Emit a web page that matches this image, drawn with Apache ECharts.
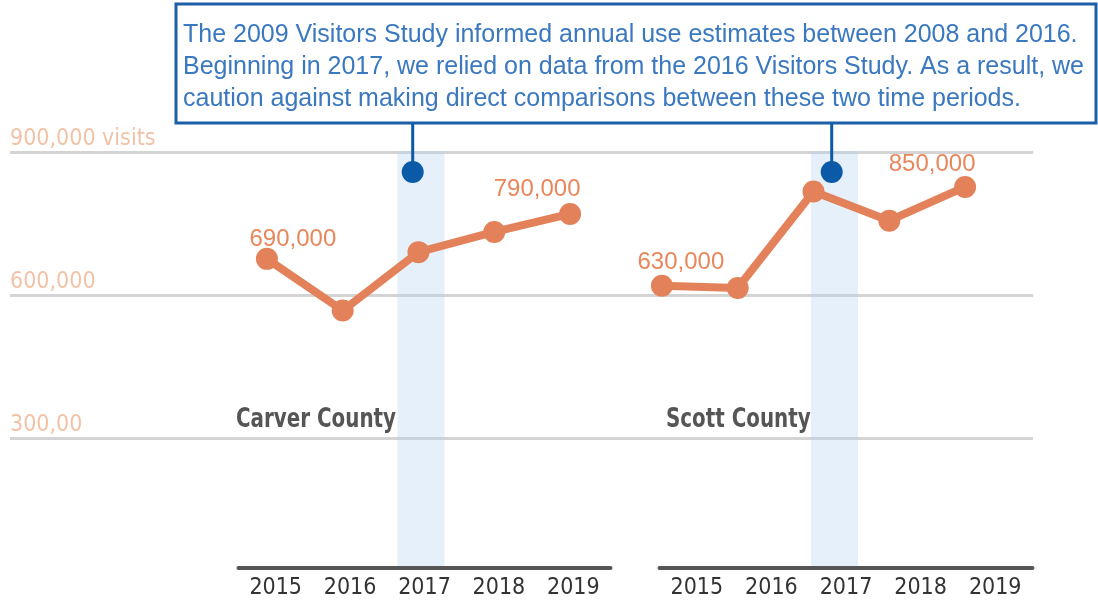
<!DOCTYPE html>
<html>
<head>
<meta charset="utf-8">
<title>Annual visits – Carver and Scott County</title>
<script src="https://cdn.jsdelivr.net/npm/echarts@6.0.0/dist/echarts.min.js"></script>
<style>
  html, body { margin: 0; padding: 0; background: #fff; }
  #chart { width: 1098px; height: 603px; }
</style>
</head>
<body>
<div id="chart"></div>
<script>
// data
const years = ['2015', '2016', '2017', '2018', '2019'];
const carverVisits = [690000, 575000, 705000, 750000, 790000];
const scottVisits = [630000, 625000, 840000, 775000, 850000];
const highlightYear = '2017';
const yTicks = [300000, 600000, 900000];
const yTickLabels = ['300,00', '600,000', '900,000 visits'];
const panelNames = ['Carver County', 'Scott County'];
const noteLines = [
  'The 2009 Visitors Study informed annual use estimates between 2008 and 2016.',
  'Beginning in 2017, we relied on data from the 2016 Visitors Study. As a result, we',
  'caution against making direct comparisons between these two time periods.'
];

const ORANGE = '#e3825a';
const NARROW = "'DejaVu Sans Condensed', 'Liberation Sans Narrow', sans-serif";
const PLAIN = "'Liberation Sans', Arial, sans-serif";
const yMax = 930000;

const chart = echarts.init(document.getElementById('chart'));

// which points get a value label, and where it sits
const labelOffsets = [
  { 0: [26, -19], 4: [-33, -25] },
  { 0: [19, -23], 4: [-33, -23] }
];

function lineData(values, offsets) {
  return values.map((v, i) => {
    if (!offsets[i]) return v;
    return {
      value: v,
      label: {
        show: true,
        position: 'inside',
        offset: offsets[i],
        formatter: p => p.value.toLocaleString('en-US'),
        color: '#e8875c',
        fontFamily: PLAIN,
        fontSize: 24,
        textBorderWidth: 0
      }
    };
  });
}

const hiddenY = (idx) => ({
  type: 'value', gridIndex: idx, min: 0, max: yMax, show: false
});
const hiddenX = (idx) => ({
  type: 'category', gridIndex: idx, data: years, show: false
});
const yearAxis = (idx) => ({
  type: 'category',
  gridIndex: idx,
  data: years,
  z: 10,
  axisLine: { lineStyle: { color: '#555', width: 4 } },
  axisTick: { show: false },
  axisLabel: { interval: 0, color: '#333', fontFamily: NARROW, fontSize: 23, margin: 9 }
});

const option = {
  animation: false,
  backgroundColor: '#fff',
  grid: [
    { left: 10, right: 65, top: 152, bottom: 22 },        // background lines
    { left: 229, right: 490, top: 151, bottom: 34 },      // Carver points
    { left: 624, right: 95, top: 151, bottom: 34 },       // Scott points
    { left: 238.5, right: 487.5, top: 151, bottom: 35 },  // Carver axis
    { left: 659.5, right: 65.5, top: 151, bottom: 35 },   // Scott axis
    { left: 233.5, width: 375, top: 151, bottom: 35 },    // Carver band
    { left: 647, width: 375, top: 151, bottom: 35 }       // Scott band
  ],
  xAxis: [
    { type: 'value', gridIndex: 0, show: false },
    hiddenX(1), hiddenX(2), yearAxis(3), yearAxis(4), hiddenX(5), hiddenX(6)
  ],
  yAxis: [
    {
      type: 'value',
      gridIndex: 0,
      min: 0,
      max: 900000,
      interval: 300000,
      axisLine: { show: false },
      axisTick: { show: false },
      splitLine: { showMinLine: false, lineStyle: { color: '#d4d4d4', width: 3 } },
      axisLabel: {
        inside: true,
        margin: 0,
        align: 'left',
        verticalAlign: 'bottom',
        padding: [0, 0, 1, 0],
        color: '#f2c2a6',
        fontFamily: NARROW,
        fontSize: 23,
        formatter: v => {
          const i = yTicks.indexOf(v);
          return i < 0 ? '' : yTickLabels[i];
        }
      }
    },
    hiddenY(1), hiddenY(2), hiddenY(3), hiddenY(4), hiddenY(5), hiddenY(6)
  ],
  series: [
    ...[5, 6].map(idx => ({
      type: 'bar',
      xAxisIndex: idx,
      yAxisIndex: idx,
      silent: true,
      barWidth: 47,
      z: 1,
      itemStyle: { color: 'rgba(180,210,240,0.33)' },
      data: years.map(y => (y === highlightYear ? yMax : null))
    })),
    ...[carverVisits, scottVisits].map((vals, k) => ({
      name: panelNames[k],
      type: 'line',
      xAxisIndex: k + 1,
      yAxisIndex: k + 1,
      z: 5,
      symbol: 'circle',
      symbolSize: 22,
      lineStyle: { color: ORANGE, width: 8 },
      itemStyle: { color: ORANGE },
      data: lineData(vals, labelOffsets[k])
    }))
  ],
  graphic: [
    {
      type: 'rect', z: 100,
      shape: { x: 176, y: 4, width: 920, height: 119 },
      style: { fill: '#fff', stroke: '#1b5fa8', lineWidth: 3 }
    },
    {
      type: 'text', z: 101, x: 183, y: 19,
      style: {
        text: noteLines.join('\n'),
        fill: '#3a78c0',
        font: '25px ' + PLAIN,
        lineHeight: 32
      }
    },
    ...[412.7, 831.7].flatMap(x => [
      {
        type: 'line', z: 100,
        shape: { x1: x, y1: 124, x2: x, y2: 172 },
        style: { stroke: '#0d5aa7', lineWidth: 3 }
      },
      {
        type: 'circle', z: 100,
        shape: { cx: x, cy: 172, r: 11 },
        style: { fill: '#0a5aa8' }
      }
    ]),
    ...panelNames.map((name, k) => ({
      type: 'text', z: 100, x: [236, 666][k], y: 420, scaleX: 0.85,
      style: {
        text: name,
        fill: '#555',
        font: 'bold 26px ' + NARROW,
        verticalAlign: 'middle'
      }
    }))
  ]
};

chart.setOption(option);
window.addEventListener('resize', () => chart.resize());
</script>
</body>
</html>
